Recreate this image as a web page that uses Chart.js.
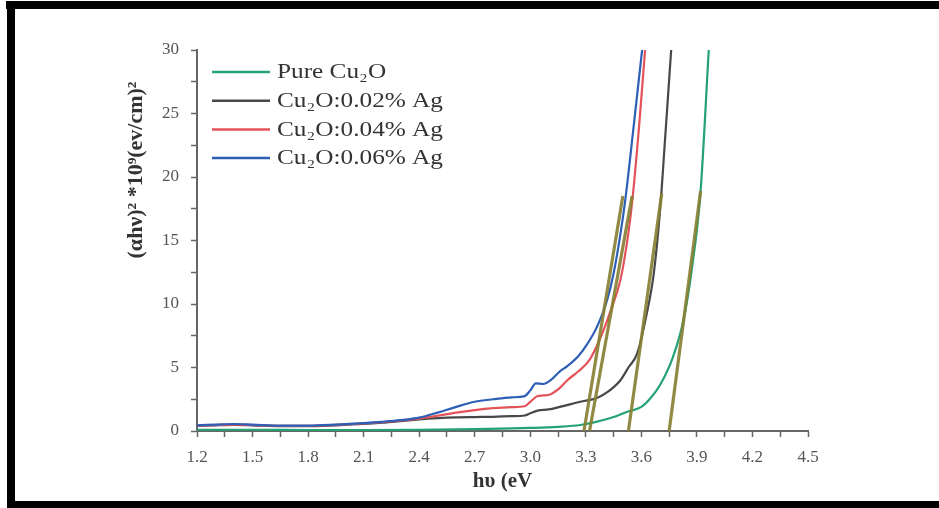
<!DOCTYPE html>
<html><head><meta charset="utf-8">
<script src="https://cdn.jsdelivr.net/npm/chart.js@4/dist/chart.umd.min.js"></script>
<style>
html,body{margin:0;padding:0;background:#fff;}
#wrap{position:relative;width:939px;height:508px;overflow:hidden;background:#fff;}
#c{position:absolute;left:0;top:0;}
.b{position:absolute;background:#000;}
</style></head><body>
<div id="wrap">
<canvas id="c" width="939" height="508"></canvas>
<div class="b" style="left:6px;top:1px;width:933px;height:8px"></div>
<div class="b" style="left:7px;top:1px;width:8px;height:507px"></div>
<div class="b" style="left:7px;top:501px;width:932px;height:7px"></div>
</div>
<script>
// ---- data ----
const seriesLabels = ['Pure Cu\u2082O', 'Cu\u2082O:0.02% Ag', 'Cu\u2082O:0.04% Ag', 'Cu\u2082O:0.06% Ag'];
const xTitle = 'h\u03c5 (eV';
const yTitle = '(\u03b1h\u03bd)\u00b2 *10\u2079(ev/cm)\u00b2';

const energyPure = [1.2, 1.5, 1.8, 2.1, 2.4, 2.7, 2.9, 3.0, 3.15, 3.27, 3.35, 3.45, 3.52, 3.6, 3.65, 3.7, 3.77, 3.83, 3.875, 3.919, 3.964];
const valuesPure = [0.1, 0.1, 0.08, 0.08, 0.1, 0.15, 0.2, 0.24, 0.33, 0.47, 0.7, 1.1, 1.5, 1.9, 2.6, 3.6, 5.8, 8.9, 13.0, 18.7, 30];

const energyAg002 = [1.2, 1.3, 1.4, 1.5, 1.65, 1.8, 1.95, 2.1, 2.2, 2.3, 2.4, 2.5, 2.6, 2.7, 2.8, 2.9, 2.97, 3.0, 3.04, 3.1, 3.16, 3.27, 3.36, 3.42, 3.487, 3.53, 3.577, 3.63, 3.667, 3.7, 3.73, 3.761];
const valuesAg002 = [0.4, 0.45, 0.48, 0.45, 0.38, 0.38, 0.45, 0.55, 0.65, 0.78, 0.92, 1.02, 1.08, 1.1, 1.12, 1.17, 1.22, 1.4, 1.6, 1.7, 1.9, 2.3, 2.6, 3.1, 4.0, 5.0, 6.1, 9.3, 12.4, 17.2, 23.4, 30];

const energyAg004 = [1.2, 1.3, 1.4, 1.5, 1.65, 1.8, 1.95, 2.1, 2.2, 2.3, 2.4, 2.5, 2.6, 2.7, 2.8, 2.9, 2.97, 3.0, 3.04, 3.07, 3.11, 3.16, 3.2, 3.26, 3.32, 3.375, 3.43, 3.487, 3.53, 3.553, 3.59, 3.62];
const valuesAg004 = [0.42, 0.47, 0.5, 0.47, 0.4, 0.4, 0.48, 0.6, 0.7, 0.82, 0.97, 1.2, 1.45, 1.65, 1.8, 1.88, 1.95, 2.3, 2.75, 2.8, 2.9, 3.4, 4.0, 4.7, 5.6, 7.2, 9.3, 11.9, 15.6, 18.4, 24.4, 30];

const energyAg006 = [1.2, 1.3, 1.4, 1.5, 1.65, 1.8, 1.95, 2.1, 2.2, 2.3, 2.4, 2.5, 2.6, 2.7, 2.8, 2.9, 2.97, 3.0, 3.03, 3.07, 3.11, 3.16, 3.2, 3.26, 3.31, 3.36, 3.415, 3.45, 3.49, 3.514, 3.56, 3.604];
const valuesAg006 = [0.45, 0.5, 0.55, 0.5, 0.42, 0.42, 0.5, 0.62, 0.72, 0.85, 1.05, 1.45, 1.9, 2.3, 2.5, 2.65, 2.75, 3.2, 3.75, 3.7, 4.0, 4.7, 5.1, 5.9, 6.9, 8.2, 10.3, 12.4, 15.8, 18.3, 24.2, 30];

// linear band-gap extrapolation (tangent) lines: x endpoints and y endpoints
const tangentPureX = [3.75, 3.92];   const tangentPureY = [0, 18.9];
const tangentAg002X = [3.53, 3.71];  const tangentAg002Y = [0, 18.7];
const tangentAg004X = [3.32, 3.55];  const tangentAg004Y = [0, 18.5];
const tangentAg006X = [3.29, 3.50];  const tangentAg006Y = [0, 18.5];

const xTickLabels = ['1.2','1.5','1.8','2.1','2.4','2.7','3.0','3.3','3.6','3.9','4.2','4.5'];
const yTickLabels = ['0','5','10','15','20','25','30'];

// ---- build ----
const pts = (xs, ys) => xs.map((x, i) => ({x: x, y: ys[i]}));
const colors = ['#24a273', '#484848', '#e4525a', '#2e5fb6'];
const tanColor = 'rgba(135,128,52,0.92)';

const curves = [
  [energyPure, valuesPure], [energyAg002, valuesAg002], [energyAg004, valuesAg004], [energyAg006, valuesAg006]
].map((d, i) => ({
  label: seriesLabels[i], data: pts(d[0], d[1]), borderColor: colors[i], backgroundColor: colors[i],
  borderWidth: 2.2, order: 5 - i, inLegend: true
}));
const tangents = [
  [tangentPureX, tangentPureY], [tangentAg002X, tangentAg002Y], [tangentAg004X, tangentAg004Y], [tangentAg006X, tangentAg006Y]
].map(d => ({
  label: 'fit', data: pts(d[0], d[1]), borderColor: tanColor, borderWidth: 3.2, order: 0, inLegend: false,
  cubicInterpolationMode: 'default', tension: 0
}));

const legendPlugin = {
  id: 'insideLegend',
  afterDraw(chart) {
    const ctx = chart.ctx, a = chart.chartArea;
    ctx.save();
    ctx.font = '20px "Liberation Serif"';
    ctx.textBaseline = 'middle';
    ctx.textAlign = 'left';
    const ref = ctx.measureText(seriesLabels[1]).width;
    const sx = 166 / ref;
    chart.data.datasets.filter(d => d.inLegend).forEach((d, i) => {
      const y = a.top + 22 + i * 28.7;
      ctx.strokeStyle = d.borderColor; ctx.lineWidth = 2.5;
      ctx.beginPath(); ctx.moveTo(a.left + 15, y); ctx.lineTo(a.left + 73, y); ctx.stroke();
      ctx.save();
      ctx.translate(a.left + 80, y + 1);
      ctx.scale(sx, 1);
      ctx.fillStyle = '#333';
      ctx.fillText(d.label, 0, 0);
      ctx.restore();
    });
    ctx.restore();
  }
};
const yTitlePlugin = {
  id: 'yTitle',
  afterDraw(chart) {
    const ctx = chart.ctx;
    ctx.save();
    ctx.translate(136, 170);
    ctx.rotate(-Math.PI / 2);
    ctx.font = 'bold 22px "Liberation Serif"';
    ctx.fillStyle = '#333';
    ctx.textAlign = 'center';
    ctx.textBaseline = 'middle';
    ctx.fillText(yTitle, 0, 0);
    ctx.restore();
  }
};

const tickFont = {family: 'Liberation Serif', size: 17};
new Chart(document.getElementById('c'), {
  type: 'line',
  data: {datasets: curves.concat(tangents)},
  options: {
    responsive: false, animation: false, devicePixelRatio: 1,
    elements: {point: {radius: 0}, line: {cubicInterpolationMode: 'monotone', fill: false}},
    layout: {padding: {left: 0, top: 50, right: 131, bottom: 0}},
    plugins: {legend: {display: false}, tooltip: {enabled: false}},
    scales: {
      x: {
        type: 'linear', min: 1.2, max: 4.5,
        afterFit(s) { s.height = 77; },
        border: {display: true, color: '#666', width: 2},
        grid: {drawOnChartArea: false, drawTicks: true, tickLength: 6, tickColor: '#666', tickWidth: 1.5},
        ticks: {
          stepSize: 0.15, autoSkip: false, maxTicksLimit: 100, maxRotation: 0, minRotation: 0,
          color: '#555', font: tickFont, padding: 10,
          callback: (v) => { const k = Math.round((v - 1.2) / 0.15); return k % 2 === 0 ? xTickLabels[k / 2] : ''; }
        },
        title: {display: true, text: xTitle, color: '#333', font: {family: 'Liberation Serif', size: 21, weight: 'bold'}, padding: {top: 0, bottom: 14}}
      },
      y: {
        min: 0, max: 30,
        afterFit(s) { s.width = 197; },
        border: {display: true, color: '#666', width: 2},
        grid: {drawOnChartArea: false, drawTicks: true, tickLength: 6, tickColor: '#666', tickWidth: 1.5},
        ticks: {
          stepSize: 2.5, autoSkip: false, maxTicksLimit: 100, color: '#555', font: tickFont, padding: 12,
          callback: (v) => { const k = Math.round(v / 2.5); return k % 2 === 0 ? yTickLabels[k / 2] : ''; }
        }
      }
    }
  },
  plugins: [legendPlugin, yTitlePlugin]
});
</script>
</body></html>
